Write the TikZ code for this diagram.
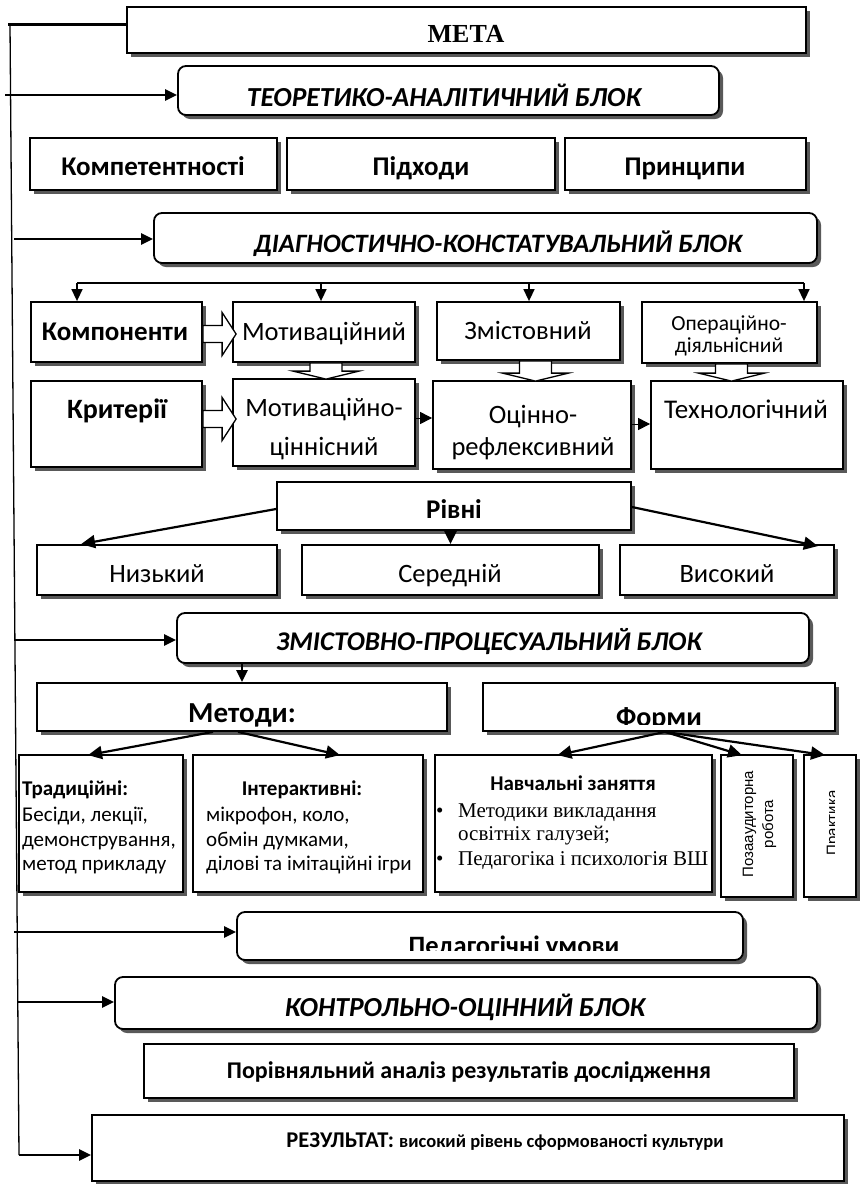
\documentclass[tikz,border=0pt]{standalone}
\usepackage{fontspec}
\setmainfont{Carlito}
\newfontfamily\serifT{Liberation Serif}
\newfontfamily\arialT{Liberation Sans}
\usetikzlibrary{shadows,fit,arrows.meta,calc}
\newcommand\fs[1]{\fontsize{#1}{#1}\selectfont}
\newcommand\hdown[3]{%
 \draw[hol] let \p1=($(#1.south)+(#3,0)$), \p2=(#2.north) in
 (\x1-16pt,\y1) -- (\x1+16pt,\y1) -- (\x1+16pt,\y2+7pt) -- (\x1+33pt,\y2+7pt) --
 (\x1,\y2-1pt) -- (\x1-33pt,\y2+7pt) -- (\x1-16pt,\y2+7pt) -- cycle;}
\newcommand\hright[3]{%
 \draw[hol] let \p1=($(#1.east)+(0,#3)$), \p2=(#2.west) in
 (\x1,\y1+8.5pt) -- (\x2-10pt,\y1+8.5pt) -- (\x2-10pt,\y1+21.5pt) -- (\x2+4pt,\y1) --
 (\x2-10pt,\y1-21.5pt) -- (\x2-10pt,\y1-8.5pt) -- (\x1,\y1-8.5pt) -- cycle;}
\begin{document}
\begin{tikzpicture}[x=1pt,y=-1pt,
 box/.style={draw, line width=1.8pt, fill=white, inner sep=0pt,
   drop shadow={shadow xshift=4pt, shadow yshift=-4pt, fill=black!65, opacity=1}},
 rbox/.style={box, rounded corners=8pt},
 txt/.style={anchor=base, inner sep=0pt},
 txtl/.style={anchor=base west, inner sep=0pt},
 arr/.style={line width=2.4pt, -{Triangle[length=12pt,width=11pt]}},
 darr/.style={line width=1.5pt, -{Triangle[length=12pt,width=11pt]}},
 larr/.style={line width=2.2pt, -{Triangle[length=14pt,width=13pt]}},
 sarr/.style={line width=1pt, -{Triangle[length=12pt,width=12pt]}},
 hol/.style={draw, line width=1.3pt, fill=white},
 bt/.style={font=\bfseries\itshape\fs{27}},
 bb/.style={font=\bfseries\fs{27}},
 rg/.style={font=\fs{26.5}}
]
\useasboundingbox (0,0) rectangle (860,1184);
\fill[white] (0,0) rectangle (860,1184);

% ---------------- boxes
\node[box, fit={(127,7) (806,53)}] (meta) {};
\node[rbox, fit={(178,66) (719,115)}] (teor) {};
\node[box, fit={(30,138) (277,190)}] (komp) {};
\node[box, fit={(287,138) (555,190)}] (pidh) {};
\node[box, fit={(565,138) (806,190)}] (princ) {};
\node[rbox, fit={(154,213) (817,263)}] (diag) {};
\node[box, fit={(31,302) (202,362)}] (komponenty) {};
\node[box, fit={(233,302) (415,362)}] (motyv) {};
\node[box, fit={(437,302) (620,360)}] (zmist) {};
\node[box, fit={(642,302) (817,363)}] (oper) {};
\node[box, fit={(31,381) (202,467)}] (kryt) {};
\node[box, fit={(233,379) (415,466)}] (motcin) {};
\node[box, fit={(433,381) (631,469)}] (ocin) {};
\node[box, fit={(651,381) (843,469)}] (tech) {};
\node[box, fit={(277,482) (631,530)}] (rivni) {};
\node[box, fit={(37,545) (277,595)}] (nyzk) {};
\node[box, fit={(302,545) (599,595)}] (sered) {};
\node[box, fit={(620,545) (834,595)}] (vysok) {};
\node[rbox, fit={(177,613) (809,663)}] (zmproc) {};
\node[box, fit={(37,683) (447,731)}] (metody) {};
\node[box, fit={(483,683) (835,731)}] (formy) {};
\node[box, fit={(19,755) (183,892)}] (trad) {};
\node[box, fit={(193,755) (423,892)}] (inter) {};
\node[box, fit={(435,755) (712,892)}] (navch) {};
\node[box, fit={(721,755) (793,897)}] (poza) {};
\node[box, fit={(804,755) (856,897)}] (prakt) {};
\node[rbox, fit={(237,912) (743,960)}] (pedum) {};
\node[rbox, fit={(115,977) (817,1029)}] (kontr) {};
\node[box, fit={(144,1044) (794,1098)}] (porivn) {};
\node[box, fit={(92,1115) (844,1181)}] (rezult) {};

% ---------------- texts
\node[txt, font=\serifT\bfseries\fs{26}] (tmeta) at (466,42) {МЕТА};
\node[txt, bt, font=\bfseries\itshape\fs{27.5}] (tteor) at (444,106) {ТЕОРЕТИКО-АНАЛІТИЧНИЙ БЛОК};
\node[txt, bb] (tkomp) at (153,175) {Компетентності};
\node[txt, bb] (tpidh) at (421,175) {Підходи};
\node[txt, bb] (tprinc) at (685,175) {Принципи};
\node[txt, bt, font=\bfseries\itshape\fs{26.5}] (tdiag) at (498,252) {ДІАГНОСТИЧНО-КОНСТАТУВАЛЬНИЙ БЛОК};
\node[txt, bb] (tkomponenty) at (115,340) {Компоненти};
\node[txt, rg] (tmotyv) at (324,340) {Мотиваційний};
\node[txt, rg] (tzmist) at (528,339) {Змістовний};
\node[txt, font=\fs{21.5}] (toper1) at (729,330) {Операційно-};
\node[txt, font=\fs{21.5}] (toper2) at (729,352) {діяльнісний};
\node[txt, bb, font=\bfseries\fs{28}] (tkryt) at (117,418) {Критерії};
\node[txt, rg] (tmotcin1) at (324,416) {Мотиваційно-};
\node[txt, rg] (tmotcin2) at (324,455) {ціннісний};
\node[txt, rg] (tocin1) at (533,423) {Оцінно-};
\node[txt, rg] (tocin2) at (533,455) {рефлексивний};
\node[txt, rg, font=\fs{27}] (ttech) at (746,418) {Технологічний};
\node[txt, bb] (trivni) at (454,518) {Рівні};
\node[txt, rg] (tnyzk) at (157,582) {Низький};
\node[txt, rg] (tsered) at (450,582) {Середній};
\node[txt, rg] (tvysok) at (727,582) {Високий};
\node[txt, bt] (tzmproc) at (489,650) {ЗМІСТОВНО-ПРОЦЕСУАЛЬНИЙ БЛОК};
\node[txt, font=\bfseries\fs{29}] (tmetody) at (242,722) {Методи:};
\begin{scope}
 \clip (486,686) rectangle (832,724);
 \node[txt, font=\bfseries\fs{28}] (tformy) at (659,726) {Форми};
\end{scope}
% traditional
\node[txtl, font=\bfseries\fs{21}] (ttr1) at (22,795) {Традиційні:};
\node[txtl, font=\fs{21}] (ttr2) at (22,821) {Бесіди, лекції,};
\node[txtl, font=\fs{21}] (ttr3) at (22,846) {демонстрування,};
\node[txtl, font=\fs{21}] (ttr4) at (22,870) {метод прикладу};
% interactive
\node[txt, font=\bfseries\fs{21}] (tin1) at (302,795) {Інтерактивні:};
\node[txtl, font=\fs{21}] (tin2) at (206,821) {мікрофон, коло,};
\node[txtl, font=\fs{21}] (tin3) at (206,846) {обмін думками,};
\node[txtl, font=\fs{21}] (tin4) at (206,870) {ділові та імітаційні ігри};
% navch
\node[txt, font=\bfseries\fs{21}] (tnv) at (573,790) {Навчальні заняття};
\node[txtl, font=\serifT\fs{21}] (tb1) at (436,817) {•};
\node[txtl, font=\serifT\fs{21}] (tnv1) at (458,817) {Методики викладання};
\node[txtl, font=\serifT\fs{21}] (tnv2) at (458,840) {освітніх галузей;};
\node[txtl, font=\serifT\fs{21}] (tb2) at (436,865) {•};
\node[txtl, font=\serifT\fs{21}] (tnv3) at (458,865) {Педагогіка і психологія ВШ};
% rotated
\node[txt, rotate=90, font=\arialT\fs{15}] (tpoza1) at (753,824) {Позааудиторна};
\node[txt, rotate=90, font=\arialT\fs{15}] (tpoza2) at (773,824) {робота};
\begin{scope}
 \clip (806,758) rectangle (834,894);
 \node[txt, rotate=90, font=\arialT\fs{15}] (tprakt) at (837,823) {Практика};
\end{scope}
\begin{scope}
 \clip (240,915) rectangle (740,950);
 \node[txt, bb, font=\bfseries\fs{26.5}] (tpedum) at (514,954) {Педагогічні умови};
\end{scope}
\node[txt, bt, font=\bfseries\itshape\fs{27.5}] (tkontr) at (465,1016) {КОНТРОЛЬНО-ОЦІННИЙ БЛОК};
\node[txt, font=\bfseries\fs{24}] (tporivn) at (469,1078) {Порівняльний аналіз результатів дослідження};
\node[txt, font=\bfseries\fs{22.5}] (trez) at (505,1147) {РЕЗУЛЬТАТ: {\fs{18.5}високий рівень сформованості культури}};

% ---------------- left bus
\coordinate (btop) at (10,24);
\coordinate (bbot) at (19,1155);
\draw[line width=1.3pt] (btop) -- (bbot);
\draw[line width=3pt] (8,24) -- (8,24 -| meta.west);
\coordinate (s1) at (5,95);
\coordinate (s2) at (14,239);
\coordinate (s3) at (14,640);
\coordinate (s4) at (14,932);
\coordinate (s5) at (17,1002);
\coordinate (s6) at (19,1155);
\draw[arr] (s1) -- (s1 -| teor.west);
\draw[arr] (s2) -- (s2 -| diag.west);
\draw[arr] (s3) -- (s3 -| zmproc.west);
\draw[arr] (s4) -- (s4 -| pedum.west);
\draw[arr] (s5) -- (s5 -| kontr.west);
\draw[arr] (s6) -- (s6 -| rezult.west);

% ---------------- distribution to components
\coordinate (d1) at (77,283);
\coordinate (d2) at (321,283);
\coordinate (d3) at (529,283);
\coordinate (d4) at (804,283);
\draw[line width=1.5pt] (d1) -- (d4);
\draw[darr] (d1) -- (d1 |- komponenty.north);
\draw[darr] (d2) -- (d2 |- motyv.north);
\draw[darr] (d3) -- (d3 |- zmist.north);
\draw[darr] (d4) -- (d4 |- oper.north);

% hollow arrows
\hright{komponenty}{motyv}{2}
\hright{kryt}{motcin}{-5}
\hdown{motyv}{motcin}{2}
\hdown{zmist}{ocin}{7}
\hdown{oper}{tech}{2}
% small arrows
\draw[sarr] ([yshift=4.5pt]motcin.east) -- ([yshift=4.5pt]motcin.east -| ocin.west);
\draw[sarr] ([yshift=1pt]ocin.east) -- ([yshift=1pt]ocin.east -| tech.west);

% levels
\draw[larr] ([yshift=-3pt]rivni.west) -- ($(nyzk.north west)+(45,0)$);
\draw[larr] (rivni.south -| sered.north) -- (sered.north);
\draw[larr] ([yshift=-1pt]rivni.east) -- ($(vysok.north east)+(-17,2)$);

% methods/forms
\draw[arr] (metody.north |- zmproc.south) -- (metody.north);
\draw[larr] ($(metody.south)+(-29,0)$) -- ($(trad.north)+(-13,1)$);
\draw[larr] ($(metody.south)+(-4,0)$) -- ($(inter.north)+(32,1)$);
\draw[larr] ($(formy.south)+(6,0)$) -- ($(navch.north)+(-16,1)$);
\draw[larr] ($(formy.south)+(6,0)$) -- ($(poza.north)+(-15,1)$);
\draw[larr] ($(formy.south)+(6,0)$) -- ($(prakt.north)+(-5,1)$);
\end{tikzpicture}
\end{document}
